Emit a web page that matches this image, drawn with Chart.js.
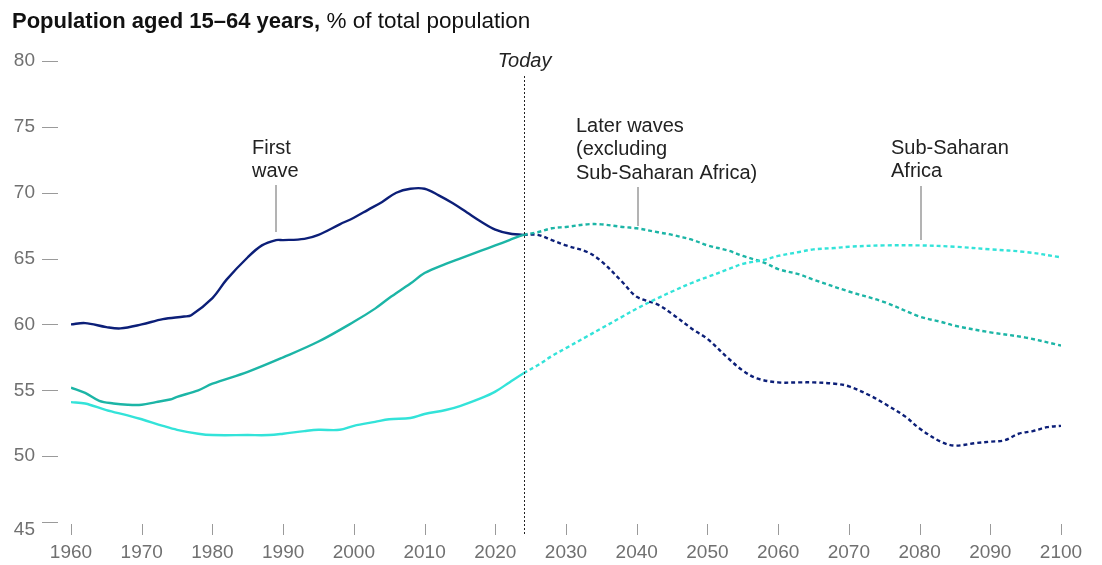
<!DOCTYPE html>
<html>
<head>
<meta charset="utf-8">
<script src="https://cdn.jsdelivr.net/npm/chart.js@4/dist/chart.umd.min.js"></script>
<style>
  html, body { margin: 0; padding: 0; background: #fff; }
  #wrap { position: relative; width: 1102px; height: 565px; }
</style>
</head>
<body>
<div id="wrap"><canvas id="myChart" width="1102" height="565"></canvas></div>
<script>
// data
const TODAY = 2024;

const firstWaveYears = [1960, 1962, 1965, 1967, 1970, 1973, 1976, 1977, 1980, 1982, 1985, 1987, 1989, 1990, 1993, 1995, 1998, 2000, 2002, 2004, 2006, 2008, 2010, 2012, 2014, 2016, 2018, 2020, 2022, 2024,
  2026, 2028, 2030, 2033, 2035, 2038, 2040, 2043, 2045, 2048, 2050, 2053, 2055, 2057, 2060, 2063, 2065, 2068, 2070, 2073, 2075, 2078, 2080, 2083, 2085, 2088, 2090, 2092, 2094, 2096, 2098, 2100];
const firstWave = [60.0, 60.1, 59.8, 59.7, 60.0, 60.4, 60.6, 60.7, 62.0, 63.4, 65.1, 66.0, 66.4, 66.4, 66.5, 66.8, 67.6, 68.1, 68.7, 69.3, 70.0, 70.3, 70.3, 69.8, 69.2, 68.5, 67.8, 67.2, 66.9, 66.8,
  66.8, 66.4, 66.0, 65.5, 64.8, 63.2, 62.1, 61.5, 60.8, 59.6, 58.9, 57.4, 56.5, 55.9, 55.6, 55.6, 55.6, 55.5, 55.3, 54.6, 54.0, 53.0, 52.1, 51.1, 50.8, 51.0, 51.1, 51.2, 51.7, 51.9, 52.2, 52.3];

const laterWavesYears = [1960, 1962, 1964, 1966, 1968, 1970, 1972, 1974, 1975, 1978, 1980, 1985, 1990, 1995, 2000, 2003, 2005, 2008, 2010, 2013, 2015, 2018, 2020, 2022, 2024,
  2026, 2028, 2030, 2033, 2035, 2038, 2040, 2043, 2045, 2048, 2050, 2053, 2055, 2058, 2060, 2063, 2065, 2070, 2075, 2080, 2083, 2085, 2090, 2095, 2100];
const laterWaves = [55.2, 54.8, 54.2, 54.0, 53.9, 53.9, 54.1, 54.3, 54.5, 55.0, 55.5, 56.4, 57.5, 58.7, 60.2, 61.2, 62.0, 63.1, 63.9, 64.6, 65.0, 65.6, 66.0, 66.4, 66.8,
  67.0, 67.3, 67.4, 67.6, 67.6, 67.4, 67.3, 67.0, 66.8, 66.4, 66.0, 65.6, 65.2, 64.7, 64.2, 63.8, 63.4, 62.5, 61.7, 60.6, 60.2, 59.9, 59.4, 59.0, 58.4];

const ssaYears = [1960, 1962, 1965, 1968, 1970, 1973, 1975, 1978, 1980, 1985, 1988, 1990, 1993, 1995, 1998, 2000, 2003, 2005, 2008, 2010, 2013, 2015, 2018, 2020, 2022, 2024,
  2026, 2028, 2030, 2033, 2035, 2038, 2040, 2043, 2045, 2048, 2050, 2053, 2055, 2058, 2060, 2063, 2065, 2068, 2070, 2075, 2080, 2085, 2090, 2095, 2100];
const ssa = [54.1, 54.0, 53.5, 53.1, 52.8, 52.3, 52.0, 51.7, 51.6, 51.6, 51.6, 51.7, 51.9, 52.0, 52.0, 52.3, 52.6, 52.8, 52.9, 53.2, 53.5, 53.8, 54.4, 54.9, 55.6, 56.3,
  56.9, 57.6, 58.2, 59.1, 59.7, 60.6, 61.2, 62.0, 62.5, 63.2, 63.6, 64.2, 64.6, 64.9, 65.2, 65.5, 65.7, 65.8, 65.9, 66.0, 66.0, 65.9, 65.7, 65.5, 65.1];

const xTicks = [1960, 1970, 1980, 1990, 2000, 2010, 2020, 2030, 2040, 2050, 2060, 2070, 2080, 2090, 2100];
const yTicks = [45, 50, 55, 60, 65, 70, 75, 80];

const FONT = "'Liberation Sans', Arial, sans-serif";
const GREY = "#707070";

function toPoints(years, values) {
  return years.map((yr, i) => ({ x: yr, y: values[i] }));
}

function line(label, years, values, color) {
  return {
    label: label,
    data: toPoints(years, values),
    borderColor: color,
    backgroundColor: color,
    borderWidth: 2.4,
    pointRadius: 0,
    tension: 0.35,
    segment: {
      borderDash: (ctx) => (ctx.p0.parsed.x >= TODAY ? [4, 3] : undefined),
    },
  };
}

// draws title, tick marks, today line and the callouts
const decor = {
  id: "decor",
  afterDatasetsDraw(chart) {
    const c = chart.ctx;
    const xs = chart.scales.x;
    const ys = chart.scales.y;
    const area = chart.chartArea;
    c.save();

    // title
    c.textBaseline = "alphabetic";
    c.textAlign = "left";
    c.fillStyle = "#111";
    c.font = "bold 22px " + FONT;
    const bold = "Population aged 15\u201364 years,";
    c.fillText(bold, 12, 28);
    const w = c.measureText(bold).width;
    c.font = "22.5px " + FONT;
    c.fillText(" % of total population", 12 + w, 28);

    // y ticks
    c.font = "19px " + FONT;
    c.fillStyle = GREY;
    c.strokeStyle = "#9a9a9a";
    c.lineWidth = 1;
    c.textAlign = "right";
    c.textBaseline = "middle";
    yTicks.forEach((v) => {
      const y = ys.getPixelForValue(v);
      const ly = v === 45 ? y + 8 : y;
      c.fillText(String(v), 35, ly);
      c.beginPath();
      c.moveTo(42, Math.round(y) + 0.5);
      c.lineTo(58, Math.round(y) + 0.5);
      c.stroke();
    });

    // x ticks
    c.textAlign = "center";
    xTicks.forEach((v) => {
      const x = xs.getPixelForValue(v);
      c.beginPath();
      c.moveTo(Math.round(x) + 0.5, area.bottom + 2);
      c.lineTo(Math.round(x) + 0.5, area.bottom + 13);
      c.stroke();
      c.fillText(String(v), x, area.bottom + 31);
    });

    // today line
    const tx = Math.round(xs.getPixelForValue(TODAY)) + 0.5;
    c.strokeStyle = "#222";
    c.setLineDash([2, 2]);
    c.beginPath();
    c.moveTo(tx, 76);
    c.lineTo(tx, area.bottom + 13);
    c.stroke();
    c.setLineDash([]);
    c.fillStyle = "#222";
    c.font = "italic 20px " + FONT;
    c.fillText("Today", tx, 61);

    // callouts
    c.font = "20px " + FONT;
    c.textAlign = "left";
    c.fillStyle = "#222";
    const notes = [
      { x: 252, y: 148, lines: ["First", "wave"], lx: 276, y0: 185, y1: 232 },
      { x: 576, y: 126, lines: ["Later waves", "(excluding", "Sub-Saharan Africa)"], lx: 638, y0: 187, y1: 226 },
      { x: 891, y: 148, lines: ["Sub-Saharan", "Africa"], lx: 921, y0: 186, y1: 240 },
    ];
    notes.forEach((n) => {
      n.lines.forEach((t, i) => c.fillText(t, n.x, n.y + i * 23.5));
      c.strokeStyle = "#9a9a9a";
      c.lineWidth = 1.5;
      c.beginPath();
      c.moveTo(n.lx, n.y0);
      c.lineTo(n.lx, n.y1);
      c.stroke();
    });

    c.restore();
  },
};

const config = {
  type: "line",
  data: {
    datasets: [
      line("Sub-Saharan Africa", ssaYears, ssa, "#33e3d9"),
      line("Later waves (excluding Sub-Saharan Africa)", laterWavesYears, laterWaves, "#1cb5a6"),
      line("First wave", firstWaveYears, firstWave, "#0c1f78"),
    ],
  },
  options: {
    responsive: false,
    animation: false,
    layout: { padding: { left: 0, right: 41, top: 61, bottom: 0 } },
    plugins: {
      legend: { display: false },
      tooltip: { enabled: false },
    },
    scales: {
      x: {
        type: "linear",
        min: 1960,
        max: 2100,
        grid: { display: false },
        border: { display: false },
        ticks: { display: false },
        afterFit: (s) => { s.height = 43; },
      },
      y: {
        min: 45,
        max: 80,
        grid: { display: false },
        border: { display: false },
        ticks: { display: false },
        afterFit: (s) => { s.width = 71; },
      },
    },
  },
  plugins: [decor],
};

var myChart = new Chart(document.getElementById("myChart"), config);
</script>
</body>
</html>
